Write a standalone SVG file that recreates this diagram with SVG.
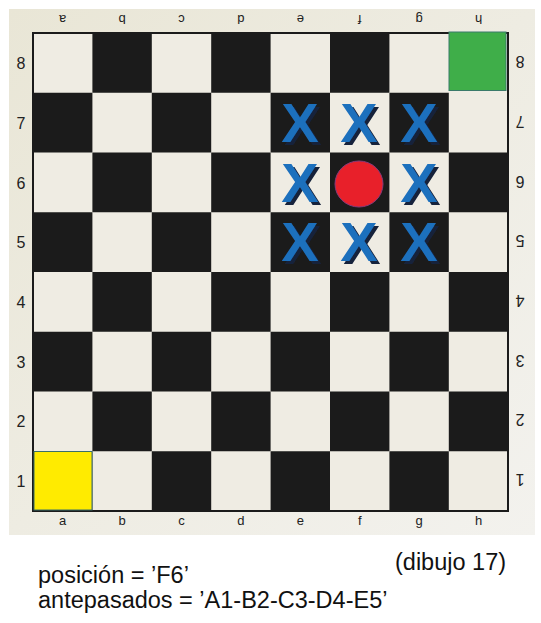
<svg xmlns="http://www.w3.org/2000/svg" width="541" height="623" viewBox="0 0 541 623">
<defs>
<linearGradient id="bg" x1="0" y1="0" x2="1" y2="1">
<stop offset="0" stop-color="#e9e6d6"/>
<stop offset="1" stop-color="#f3f2ee"/>
</linearGradient>
<filter id="sh" x="-20%" y="-20%" width="150%" height="150%">
<feDropShadow dx="3" dy="3" stdDeviation="0.6" flood-color="#15233a" flood-opacity="1"/>
</filter>
<style>
.d{fill:#1b1b1b}
.l{fill:#efece3}
.lab{font-family:"Liberation Sans",Arial,sans-serif;font-size:13px;fill:#222;text-anchor:middle}
.num{font-family:"Liberation Sans",Arial,sans-serif;font-size:16px;fill:#222;text-anchor:middle}
.x{font-family:"Liberation Sans",Arial,sans-serif;font-weight:bold;font-size:56px;text-anchor:middle;fill:#1d6fbd;filter:url(#sh)}
.t{font-family:"Liberation Sans",Arial,sans-serif;font-size:23.5px;fill:#111}
</style>
</defs>
<rect width="541" height="623" fill="#ffffff"/>
<g id="board">
<rect x="9" y="9" width="526" height="526" fill="url(#bg)"/>
<rect x="33" y="33" width="475" height="478" class="l"/>
<g id="squares">
<rect class="d" x="92.4" y="33" width="59.4" height="59.75"/>
<rect class="d" x="211.2" y="33" width="59.4" height="59.75"/>
<rect class="d" x="330" y="33" width="59.4" height="59.75"/>
<rect class="d" x="33" y="92.75" width="59.4" height="59.75"/>
<rect class="d" x="151.8" y="92.75" width="59.4" height="59.75"/>
<rect class="d" x="270.6" y="92.75" width="59.4" height="59.75"/>
<rect class="d" x="389.4" y="92.75" width="59.4" height="59.75"/>
<rect class="d" x="92.4" y="152.5" width="59.4" height="59.75"/>
<rect class="d" x="211.2" y="152.5" width="59.4" height="59.75"/>
<rect class="d" x="330" y="152.5" width="59.4" height="59.75"/>
<rect class="d" x="448.8" y="152.5" width="59.4" height="59.75"/>
<rect class="d" x="33" y="212.25" width="59.4" height="59.75"/>
<rect class="d" x="151.8" y="212.25" width="59.4" height="59.75"/>
<rect class="d" x="270.6" y="212.25" width="59.4" height="59.75"/>
<rect class="d" x="389.4" y="212.25" width="59.4" height="59.75"/>
<rect class="d" x="92.4" y="272" width="59.4" height="59.75"/>
<rect class="d" x="211.2" y="272" width="59.4" height="59.75"/>
<rect class="d" x="330" y="272" width="59.4" height="59.75"/>
<rect class="d" x="448.8" y="272" width="59.4" height="59.75"/>
<rect class="d" x="33" y="331.75" width="59.4" height="59.75"/>
<rect class="d" x="151.8" y="331.75" width="59.4" height="59.75"/>
<rect class="d" x="270.6" y="331.75" width="59.4" height="59.75"/>
<rect class="d" x="389.4" y="331.75" width="59.4" height="59.75"/>
<rect class="d" x="92.4" y="391.5" width="59.4" height="59.75"/>
<rect class="d" x="211.2" y="391.5" width="59.4" height="59.75"/>
<rect class="d" x="330" y="391.5" width="59.4" height="59.75"/>
<rect class="d" x="448.8" y="391.5" width="59.4" height="59.75"/>
<rect class="d" x="33" y="451.25" width="59.4" height="59.75"/>
<rect class="d" x="151.8" y="451.25" width="59.4" height="59.75"/>
<rect class="d" x="270.6" y="451.25" width="59.4" height="59.75"/>
<rect class="d" x="389.4" y="451.25" width="59.4" height="59.75"/>
</g>
<rect x="33" y="33" width="475" height="478" fill="none" stroke="#1b1b1b" stroke-width="2"/>
<g id="labels">
<text class="lab" x="62.7" y="25" transform="rotate(180 62.7 20)">a</text>
<text class="lab" x="122.1" y="25" transform="rotate(180 122.1 20)">b</text>
<text class="lab" x="181.5" y="25" transform="rotate(180 181.5 20)">c</text>
<text class="lab" x="240.9" y="25" transform="rotate(180 240.9 20)">d</text>
<text class="lab" x="300.3" y="25" transform="rotate(180 300.3 20)">e</text>
<text class="lab" x="359.7" y="25" transform="rotate(180 359.7 20)">f</text>
<text class="lab" x="419.1" y="25" transform="rotate(180 419.1 20)">g</text>
<text class="lab" x="478.5" y="25" transform="rotate(180 478.5 20)">h</text>
<text class="lab" x="62.7" y="525">a</text>
<text class="lab" x="122.1" y="525">b</text>
<text class="lab" x="181.5" y="525">c</text>
<text class="lab" x="240.9" y="525">d</text>
<text class="lab" x="300.3" y="525">e</text>
<text class="lab" x="359.7" y="525">f</text>
<text class="lab" x="419.1" y="525">g</text>
<text class="lab" x="478.5" y="525">h</text>
<text class="num" x="21" y="69">8</text>
<text class="num" x="21" y="129">7</text>
<text class="num" x="21" y="189">6</text>
<text class="num" x="21" y="248">5</text>
<text class="num" x="21" y="308">4</text>
<text class="num" x="21" y="368">3</text>
<text class="num" x="21" y="427">2</text>
<text class="num" x="21" y="487">1</text>
<g transform="rotate(180 520 0)">
<text class="num" x="520" y="-56">8</text>
<text class="num" x="520" y="-116">7</text>
<text class="num" x="520" y="-176">6</text>
<text class="num" x="520" y="-235">5</text>
<text class="num" x="520" y="-295">4</text>
<text class="num" x="520" y="-355">3</text>
<text class="num" x="520" y="-414">2</text>
<text class="num" x="520" y="-474">1</text>
</g>
</g>
</g>
<g id="a1"><rect x="34" y="451.5" width="58" height="58.5" fill="#ffeb00" stroke="#3a6e6a" stroke-width="1"/></g>
<g id="h8"><rect x="449" y="32" width="57" height="58.5" fill="#3fae49" stroke="#3a7a6a" stroke-width="1"/></g>
<g id="f6"><ellipse cx="359" cy="184" rx="24" ry="23" fill="#e8202a" stroke="#8a3a7a" stroke-width="1"/></g>
<g id="marks">
<text class="x" x="300" y="142">X</text>
<text class="x" x="359" y="142">X</text>
<text class="x" x="419" y="142">X</text>
<text class="x" x="300" y="202">X</text>
<text class="x" x="419" y="202">X</text>
<text class="x" x="300" y="261">X</text>
<text class="x" x="359" y="261">X</text>
<text class="x" x="419" y="261">X</text>
</g>
<g id="caption">
<text class="t" x="395" y="570">(dibujo 17)</text>
<text class="t" x="38" y="583">posición = ’F6’</text>
<text class="t" x="38" y="608">antepasados = ’A1-B2-C3-D4-E5’</text>
</g>
</svg>
